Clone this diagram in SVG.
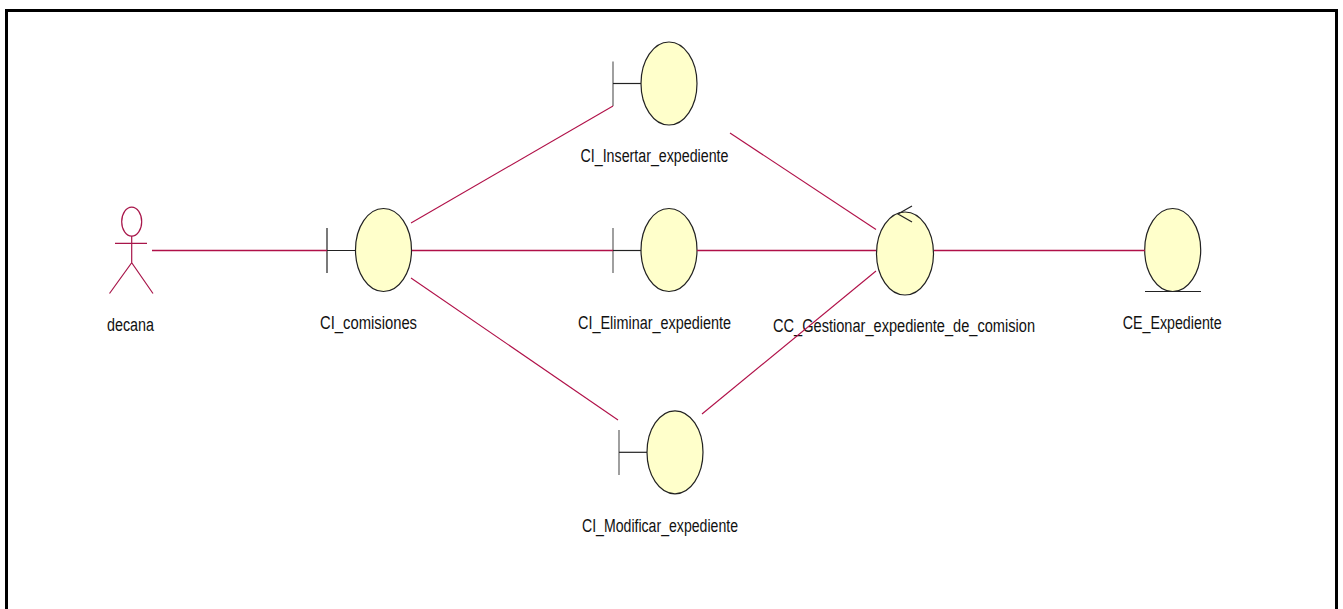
<svg xmlns="http://www.w3.org/2000/svg" width="1343" height="609" viewBox="0 0 1343 609">
<style>
.o{fill:#ffffcb;stroke:#222;stroke-width:1.2}
.s{fill:none;stroke:#222;stroke-width:1.2}
.b{fill:none;stroke:#777;stroke-width:1.4}
.c{fill:none;stroke:#b01048;stroke-width:1.4}
.d{fill:none;stroke:#b01048;stroke-width:1.1}
.a{fill:none;stroke:#a8164a;stroke-width:1.2}
text{font-family:"Liberation Sans",Arial,sans-serif;font-size:18px;fill:#111}
</style>
<rect width="1343" height="609" fill="#fff"/>
<path d="M6.500 612V10.500H1336.500V612" fill="none" stroke="#000" stroke-width="3"/>
<g id="actor-decana"><ellipse class="a" cx="131.700" cy="221.700" rx="10" ry="14.500"/><path class="a" d="M115 243.300H147M131.700 236V262.700M109.500 293.500L131.700 262.700L153 293.500"/><text x="107" y="331" textLength="47" lengthAdjust="spacingAndGlyphs">decana</text></g>
<g id="ci-comisiones"><path class="s" d="M327 228V273M327 250.500H355"/><ellipse class="o" cx="383.500" cy="250" rx="28" ry="41.500"/><text x="320" y="329" textLength="97" lengthAdjust="spacingAndGlyphs">CI_comisiones</text></g>
<g id="ci-insertar"><path class="b" d="M613 61.500V106"/><path class="s" d="M613 83.500H641"/><ellipse class="o" cx="669" cy="83.500" rx="28" ry="41.500"/><text x="580.500" y="162" textLength="148" lengthAdjust="spacingAndGlyphs">CI_Insertar_expediente</text></g>
<g id="ci-eliminar"><path class="b" d="M613 228V273"/><path class="s" d="M613 250.500H641"/><ellipse class="o" cx="669" cy="250" rx="28" ry="41.500"/><text x="578" y="329" textLength="153" lengthAdjust="spacingAndGlyphs">CI_Eliminar_expediente</text></g>
<g id="ci-modificar"><path class="b" d="M619 430V475"/><path class="s" d="M619 452.300H647"/><ellipse class="o" cx="675" cy="452.300" rx="28" ry="41.500"/><text x="582" y="532" textLength="156" lengthAdjust="spacingAndGlyphs">CI_Modificar_expediente</text></g>
<g id="cc-gestionar"><ellipse class="o" cx="905" cy="253.500" rx="28.500" ry="41.500"/><path class="s" d="M912 206L898 214L912 222"/><text x="773" y="332" textLength="262" lengthAdjust="spacingAndGlyphs">CC_Gestionar_expediente_de_comision</text></g>
<g id="ce-expediente"><ellipse class="o" cx="1172.700" cy="250" rx="28" ry="41.500"/><path class="s" d="M1145 291.500H1201"/><text x="1122.700" y="329" textLength="99" lengthAdjust="spacingAndGlyphs">CE_Expediente</text></g>
<g id="connectors">
<path class="c" d="M152 250.500H327"/>
<path class="c" d="M412 250.500H613"/>
<path class="c" d="M697 250.500H876"/>
<path class="c" d="M934 250.500H1145"/>
<path class="d" d="M411 223L613 106"/>
<path class="d" d="M730 133L876 229.500"/>
<path class="d" d="M411 278L618 420"/>
<path class="d" d="M702 414L876 271"/>
</g>
</svg>
